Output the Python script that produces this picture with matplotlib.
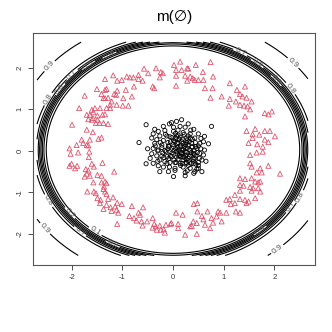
import numpy as np
import matplotlib.pyplot as plt

plt.rcParams['font.family'] = ['Liberation Sans', 'DejaVu Sans']
plt.rcParams['axes.unicode_minus'] = False

# class 2: points on the ring (red triangles)
red_x = [-0.57, -0.335, -0.24, -0.20, -0.49, -0.26, -0.68, -0.68, -0.78, -0.85, -0.91, -1.01, -1.10, -1.18,
         -1.34, -0.60, -0.40, -0.37, -0.77, -0.93, -1.10, -1.31, -1.34, -1.50, -1.41, -1.12, -1.16, -0.98,
         -0.81, -1.34, -1.28, -1.37, -1.21, -1.24, -1.11, -0.99, -0.88, -1.31, -1.24, -1.44, -1.54, -1.60,
         -1.57, -1.64, -1.70, -1.58, -1.49, -1.39, -1.34, -1.67, -1.60, -1.49, -1.52, -1.45, -1.37, -1.28,
         -1.85, -1.74, -1.99, -1.70, -1.58, -1.64, -1.80, -1.77, -1.70, -1.90, -1.67, -1.47, -1.41, -2.04,
         # lower left
         -2.02, -1.87, -1.65, -1.66, -1.60, -1.39, -2.00, -2.04, -1.89, -1.93, -1.72, -1.56, -1.67, -1.70,
         -1.74, -1.64, -1.49, -1.41, -1.16, -1.57, -1.41, -1.34, -1.31, -1.36, -1.37, -1.69, -1.56, -1.52,
         -1.34, -1.31, -1.18, -1.49, -1.43, -1.28, -1.10, -1.01, -1.44, -1.31, -1.23, -1.14, -1.37, -1.21,
         -1.11, -1.08, -0.81, -0.59, -0.68, -0.65, -0.86, -0.77, -0.72, -0.62, -0.51, -0.40, -0.37, -0.34,
         -0.26, -0.24, -0.14, -0.05, -0.18, -0.32, -0.40, -1.10, -0.60, -0.16,
         # upper right
         0.14, 0.02, 0.06, 0.17, 0.28, 0.30, 0.45, 0.59, 0.74, 0.06, 0.24, 0.34, 0.39, 0.28, 0.43, 0.50,
         0.60, 0.79, 0.06, 0.63, 0.78, 0.74, 0.96, 1.12, 1.26, 1.42, 1.12, 1.32, 1.37, 1.45, 1.24, 1.32,
         1.40, 1.47, 1.55, 1.10, 1.52, 1.42, 1.81, 1.88, 1.95, 1.45, 1.62, 1.81, 1.91, 1.57, 1.70, 2.01,
         1.81, 1.88, 1.57, 1.49, 1.66, 1.77,
         # lower right
         1.52, 1.65, 1.77, 1.52, 1.55, 1.72, 1.65, 1.75, 1.88, 2.11, 1.32, 1.42, 1.55, 1.62, 1.68, 1.72,
         1.32, 1.39, 1.52, 1.58, 1.68, 1.72, 1.32, 1.55, 1.22, 1.12, 1.05, 1.32, 1.42, 1.49, 1.45, 1.62,
         1.22, 1.14, 0.41, 0.48, 0.68, 0.89, 0.93, 0.86, 1.05, 1.24, 1.32, 0.48, 0.06, 0.19, 0.57, 0.60,
         0.40, 0.37, 0.47, 0.76, 0.79, 0.96, 0.63, 0.73, 0.34, 0.10, 0.10, -0.03, 0.24, 0.47]
red_y = [1.98, 1.99, 1.90, 1.87, 1.87, 1.77, 1.83, 1.73, 1.77, 1.77, 1.79, 1.71, 1.69, 1.82,
         1.73, 1.69, 1.55, 1.51, 1.55, 1.47, 1.45, 1.49, 1.47, 1.49, 1.37, 1.35, 1.37, 1.27,
         1.31, 1.27, 1.28, 1.27, 1.19, 1.11, 1.11, 1.09, 1.09, 1.03, 1.03, 1.03, 1.03, 0.99,
         0.93, 0.87, 0.87, 0.79, 0.85, 0.87, 0.88, 0.76, 0.75, 0.75, 0.67, 0.67, 0.67, 0.65,
         1.03, 1.33, 0.63, 0.51, 0.45, 0.27, 0.27, 0.19, 0.14, 0.14, 0.13, 0.29, 0.32, 0.06,
         -0.07, -0.04, -0.02, -0.15, -0.31, -0.29, -0.31, -0.36, -0.36, -0.42, -0.44, -0.38, -0.47, -0.55,
         -0.62, -0.60, -0.58, -0.60, -0.50, -0.76, -0.76, -0.74, -0.78, -0.86, -0.92, -0.98, -0.98, -1.02,
         -0.98, -1.04, -1.12, -1.14, -1.18, -1.16, -1.25, -1.28, -1.26, -1.30, -1.36, -1.34, -1.40, -1.45,
         -1.42, -1.49, -1.33, -1.36, -1.49, -1.54, -1.57, -1.62, -1.68, -1.70, -1.70, -1.62, -1.76, -1.82,
         -1.80, -1.90, -1.78, -1.76, -1.89, -1.90, -1.85, -1.76, -1.80, -1.97,
         2.15, 2.07, 1.95, 1.95, 1.99, 1.98, 2.07, 1.90, 2.14, 1.81, 1.81, 1.79, 1.75, 1.69, 1.71, 1.71,
         1.71, 1.79, 1.57, 1.51, 1.51, 1.28, 1.31, 1.63, 1.47, 1.55, 1.25, 1.37, 1.31, 1.28, 1.19, 1.11,
         1.09, 1.07, 1.19, 1.09, 1.00, 0.83, 0.91, 0.88, 0.95, 0.48, 0.53, 0.48, 0.48, 0.40, 0.39, 0.35,
         0.27, 0.21, 0.31, 0.19, 0.16, 0.10,
         -0.10, -0.04, -0.02, -0.30, -0.38, -0.42, -0.52, -0.52, -0.36, -0.55, -0.66, -0.68, -0.66, -0.74, -0.76, -0.74,
         -0.82, -0.84, -0.87, -0.90, -0.90, -0.98, -0.96, -0.96, -1.06, -1.16, -1.18, -1.16, -1.18, -1.22, -1.26, -1.14,
         -1.26, -1.28, -1.28, -1.26, -1.46, -1.46, -1.49, -1.58, -1.49, -1.46, -1.49, -1.46, -1.49, -1.54, -1.57, -1.65,
         -1.70, -1.81, -1.74, -1.62, -1.73, -1.70, -1.78, -1.86, -1.82, -1.76, -1.86, -1.74, -2.02, -2.00]

# class 1: central cluster (black circles)
black_x = [-0.53, -0.67, 0.17, 0.07, -0.03, -0.07, 0.30, 0.76, -0.19, 0.01, 0.14, 0.24, 0.41, -0.36,
           -0.29, -0.16, 0.01, 0.20, 0.34, 0.50, -0.39, -0.26, -0.12, -0.06, 0.07, 0.14, 0.27, 0.43,
           -0.42, -0.32, -0.19, 0.01, 0.04, 0.10, 0.17, 0.27, 0.37, 0.53, 0.70, -0.36, -0.22, -0.09,
           0.01, 0.14, 0.24, 0.37, 0.47, -0.39, -0.29, -0.16, -0.06, 0.07, 0.17, 0.27, 0.40, 0.53,
           -0.42, -0.32, -0.22, -0.12, -0.03, 0.07, 0.20, 0.30, 0.43, 0.57, -0.26, -0.16, -0.06, 0.04,
           0.14, 0.27, 0.40, 0.50, -0.39, -0.29, -0.19, -0.07, 0.04, 0.20, 0.34, 0.47, -0.53, -0.26,
           -0.09, 0.04, 0.24, 0.50, 0.57, 0.01, 0.24, 0.41, 0.43,
           0.15, 0.22, 0.30, 0.05, 0.12, 0.20, 0.33, 0.08, 0.18, 0.25, 0.35, 0.45, 0.10, 0.20, 0.30,
           0.40, -0.02, -0.10, -0.20, 0.00, 0.28, 0.38, 0.12, -0.05, 0.45, 0.55, 0.60, 0.50, 0.30,
           0.15, -0.12, -0.30, -0.35, -0.25, 0.22, 0.05, -0.15, 0.35, 0.16, 0.24, 0.02, -0.08, 0.42,
           0.60, 0.65, 0.62, -0.45, -0.50, 0.10, 0.28,
           0.05, 0.18, 0.32, 0.44, -0.10, -0.22, 0.08, 0.25, 0.38, 0.50, -0.14, 0.02, 0.10, 0.28,
           0.36, 0.48, 0.12, 0.22, 0.32, 0.40, 0.52, -0.05, 0.06, 0.18, 0.26, 0.36, 0.45, -0.18,
           -0.30, 0.62, 0.55, 0.10, -0.02, 0.30, 0.14, 0.20, 0.34, -0.08, 0.42, 0.26]
black_y = [0.63, 0.20, 0.75, 0.71, 0.68, 0.65, 0.65, 0.59, 0.59, 0.57, 0.59, 0.57, 0.52, 0.52,
           0.47, 0.49, 0.47, 0.44, 0.41, 0.41, 0.41, 0.36, 0.36, 0.34, 0.36, 0.33, 0.31, 0.31,
           0.31, 0.27, 0.25, 0.25, 0.22, 0.20, 0.22, 0.20, 0.18, 0.18, 0.17, 0.18, 0.14, 0.12,
           0.10, 0.09, 0.06, 0.09, 0.06, 0.06, 0.02, 0.01, -0.02, -0.02, -0.04, -0.04, -0.06, -0.06,
           -0.07, -0.12, -0.12, -0.14, -0.14, -0.15, -0.15, -0.18, -0.18, -0.22, -0.22, -0.26, -0.28, -0.28,
           -0.30, -0.30, -0.31, -0.28, -0.30, -0.36, -0.39, -0.39, -0.42, -0.39, -0.42, -0.44, -0.31, -0.50,
           -0.50, -0.47, -0.52, -0.42, -0.50, -0.62, -0.60, -0.54, -0.50,
           0.12, 0.10, 0.14, 0.05, 0.02, 0.03, 0.02, -0.08, -0.08, -0.10, -0.10, -0.12, -0.20, -0.22, -0.24,
           -0.25, -0.05, 0.05, -0.05, 0.15, 0.26, 0.28, 0.28, 0.22, 0.10, 0.05, -0.10, -0.35, -0.35,
           -0.35, -0.30, -0.25, 0.12, 0.20, 0.40, 0.42, 0.40, 0.50, -0.14, -0.02, -0.22, -0.18, 0.00,
           0.22, -0.25, 0.35, -0.18, 0.05, 0.50, -0.48,
           0.30, 0.28, 0.22, 0.20, 0.20, 0.08, 0.18, 0.15, 0.10, 0.12, -0.02, 0.00, 0.08, 0.06,
           -0.04, -0.04, -0.12, -0.15, -0.14, -0.20, -0.18, -0.12, -0.28, -0.30, -0.28, -0.30, -0.32, -0.16,
           0.00, 0.02, 0.30, 0.38, 0.32, 0.36, -0.04, 0.18, 0.30, 0.10, -0.08, -0.20]

# m(empty set) surface: steep rise just outside the ring, slow tail towards the corners
grid_x = np.linspace(-2.68, 2.66, 241)
grid_y = np.linspace(-2.52, 2.62, 241)
levels = [0.1, 0.2, 0.3, 0.4, 0.5, 0.6, 0.7, 0.8, 0.9]
r_edge, width, tail = 2.61, 0.055, 1.65

gx, gy = np.meshgrid(grid_x, grid_y)
r = np.sqrt(gx ** 2 + (gy - 0.03) ** 2)
m_empty = 0.85 / (1 + np.exp(-(r - r_edge) / width)) + 0.15 * np.clip((r - r_edge) / tail, 0, 1)

fig = plt.figure(figsize=(3.32, 3.32), dpi=100)
ax = fig.add_axes([0.0994, 0.2018, 0.8494, 0.6988])

cs = ax.contour(gx, gy, m_empty, levels=levels, colors='black', linewidths=0.8)
ax.clabel(cs, fmt='%.1f', fontsize=6, colors='#555555', inline=True, inline_spacing=2)

ax.scatter(black_x, black_y, s=9, marker='o', facecolors='none', edgecolors='black', linewidths=0.6)
ax.scatter(red_x, red_y, s=13, marker='^', facecolors='none', edgecolors='#DF536B', linewidths=0.6)

ax.set_xlim(-2.76, 2.80)
ax.set_ylim(-2.75, 2.84)
ax.set_xticks([-2, -1, 0, 1, 2])
ax.set_yticks([-2, -1, 0, 1, 2])
ax.tick_params(labelsize=5.5, length=3.6, width=0.6, pad=3, colors='#333333')
for lab in ax.get_yticklabels():
    lab.set_rotation(90)
    lab.set_va('center')
for sp in ax.spines.values():
    sp.set_linewidth(0.8)
    sp.set_color('#555555')

fig.text(0.524, 0.95, 'm(\u2205)', ha='center', va='center', fontsize=11)

fig.savefig('out.png', dpi=100)
